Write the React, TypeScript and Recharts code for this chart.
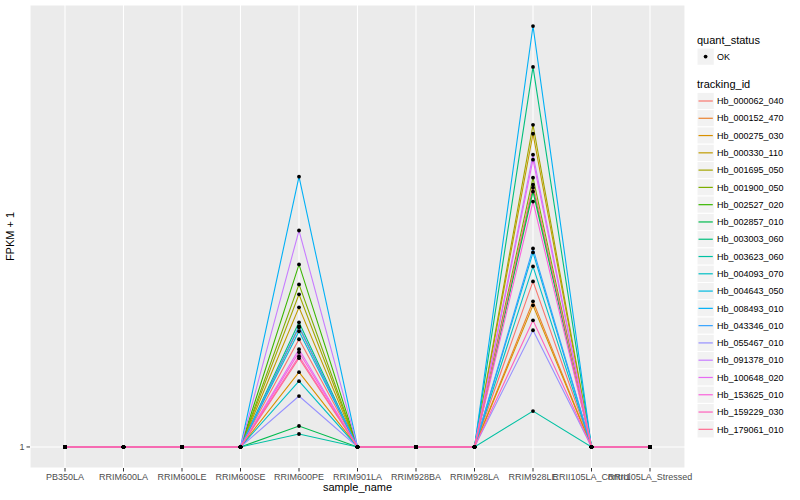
import { LineChart, Line, XAxis, YAxis, CartesianGrid } from "recharts";

const categories = [
  "PB350LA",
  "RRIM600LA",
  "RRIM600LE",
  "RRIM600SE",
  "RRIM600PE",
  "RRIM901LA",
  "RRIM928BA",
  "RRIM928LA",
  "RRIM928LE",
  "RRII105LA_Control",
  "RRII105LA_Stressed",
];

const trackingIds = [
  "Hb_000062_040",
  "Hb_000152_470",
  "Hb_000275_030",
  "Hb_000330_110",
  "Hb_001695_050",
  "Hb_001900_050",
  "Hb_002527_020",
  "Hb_002857_010",
  "Hb_003003_060",
  "Hb_003623_060",
  "Hb_004093_070",
  "Hb_004643_050",
  "Hb_008493_010",
  "Hb_043346_010",
  "Hb_055467_010",
  "Hb_091378_010",
  "Hb_100648_020",
  "Hb_153625_010",
  "Hb_159229_030",
  "Hb_179061_010",
];

const colors = [
  "#F8766D", "#EA8331", "#D89000", "#C09B00", "#A3A500",
  "#7CAE00", "#39B600", "#00BB4E", "#00BF7D", "#00C1A3",
  "#00BFC4", "#00BAE0", "#00B0F6", "#35A2FF", "#9590FF",
  "#C77CFF", "#E76BF3", "#FA62DB", "#FF62BC", "#FF6C91",
];

// FPKM + 1 at RRIM600PE and RRIM928LE; every other sample sits at 1
const valuesPE = [
  11.8, 13.0, 8.5, 15.0, 16.3, 17.3, 19.3, 3.1, 13.5, 2.3,
  7.6, 12.6, 28.1, 13.1, 6.1, 22.7, 10.8, 10.5, 10.1, 9.9,
];
const valuesLE = [
  17.6, 15.6, 15.2, 32.4, 33.3, 28.0, 27.0, 26.6, 39.1, 4.6,
  19.1, 20.5, 43.2, 20.9, 12.7, 30.3, 29.8, 25.6, 13.7, 27.3,
];

const yTicks = [1];

const data = categories.map((c) => {
  const row: Record<string, string | number> = { sample_name: c };
  trackingIds.forEach((id, i) => {
    row[id] = c === "RRIM600PE" ? valuesPE[i] : c === "RRIM928LE" ? valuesLE[i] : 1;
  });
  return row;
});

const font = "'Liberation Sans', Arial, Helvetica, sans-serif";

function LegendPanel() {
  const y0 = 101;
  const step = 17.28;
  return (
    <svg width={110} height={500} style={{ position: "absolute", left: 690, top: 0 }} fontFamily={font}>
      <text x={7} y={44} fontSize={11} fill="#000">quant_status</text>
      <rect x={7} y={48} width={17.28} height={17.28} fill="#F2F2F2" stroke="#fff" />
      <circle cx={15.6} cy={56.6} r={1.9} fill="#000" />
      <text x={27} y={60} fontSize={9} fill="#000">OK</text>
      <text x={7} y={88} fontSize={11} fill="#000">tracking_id</text>
      {trackingIds.map((id, i) => {
        const cy = y0 + i * step;
        return (
          <g key={id}>
            <rect x={7} y={cy - step / 2} width={17.28} height={17.28} fill="#F2F2F2" stroke="#fff" />
            <line x1={8.5} x2={22.8} y1={cy} y2={cy} stroke={colors[i]} strokeWidth={1.2} />
            <text x={27} y={cy + 3.2} fontSize={9} fill="#000">{id}</text>
          </g>
        );
      })}
    </svg>
  );
}

export default function App() {
  return (
    <div style={{ position: "absolute", left: 0, top: 0, width: 800, height: 500, background: "#fff" }}>
      <LineChart width={800} height={500} data={data} margin={{ top: 5, right: 115, left: 0, bottom: 0 }}>
        <CartesianGrid fill="#EBEBEB" stroke="#fff" strokeWidth={1.1} />
        <XAxis
          dataKey="sample_name"
          height={32}
          interval={0}
          padding={{ left: 35, right: 35 }}
          axisLine={false}
          tickLine={{ stroke: "#333" }}
          tickSize={3.5}
          tick={{ fontSize: 9, fill: "#4D4D4D", fontFamily: font }}
          label={{
            content: (props: any) => {
              const vb = props.viewBox || {};
              return (
                <text x={vb.x + vb.width / 2} y={491} textAnchor="middle" fontSize={11} fill="#000" fontFamily={font}>
                  sample_name
                </text>
              );
            },
          }}
        />
        <YAxis
          width={30}
          type="number"
          domain={[-1.11, 45.31]}
          ticks={yTicks}
          axisLine={false}
          tickLine={{ stroke: "#333" }}
          tickSize={3.5}
          tick={{ fontSize: 9, fill: "#4D4D4D", fontFamily: font }}
          label={{
            content: (props: any) => {
              const vb = props.viewBox || {};
              const cy = vb.y + vb.height / 2;
              return (
                <text x={14} y={cy} transform={`rotate(-90 14 ${cy})`} textAnchor="middle" fontSize={11} fill="#000" fontFamily={font}>
                  FPKM + 1
                </text>
              );
            },
          }}
        />
        {trackingIds.map((id, i) => (
          <Line
            key={id}
            dataKey={id}
            type="linear"
            stroke={colors[i]}
            strokeWidth={1.1}
            dot={false}
            activeDot={false}
            isAnimationActive={false}
          />
        ))}
        {trackingIds.map((id) => (
          <Line
            key={id + "_pt"}
            dataKey={id}
            type="linear"
            stroke="none"
            dot={{ r: 1.9, fill: "#000", stroke: "none" }}
            activeDot={false}
            legendType="none"
            isAnimationActive={false}
          />
        ))}
      </LineChart>
      <LegendPanel />
    </div>
  );
}
